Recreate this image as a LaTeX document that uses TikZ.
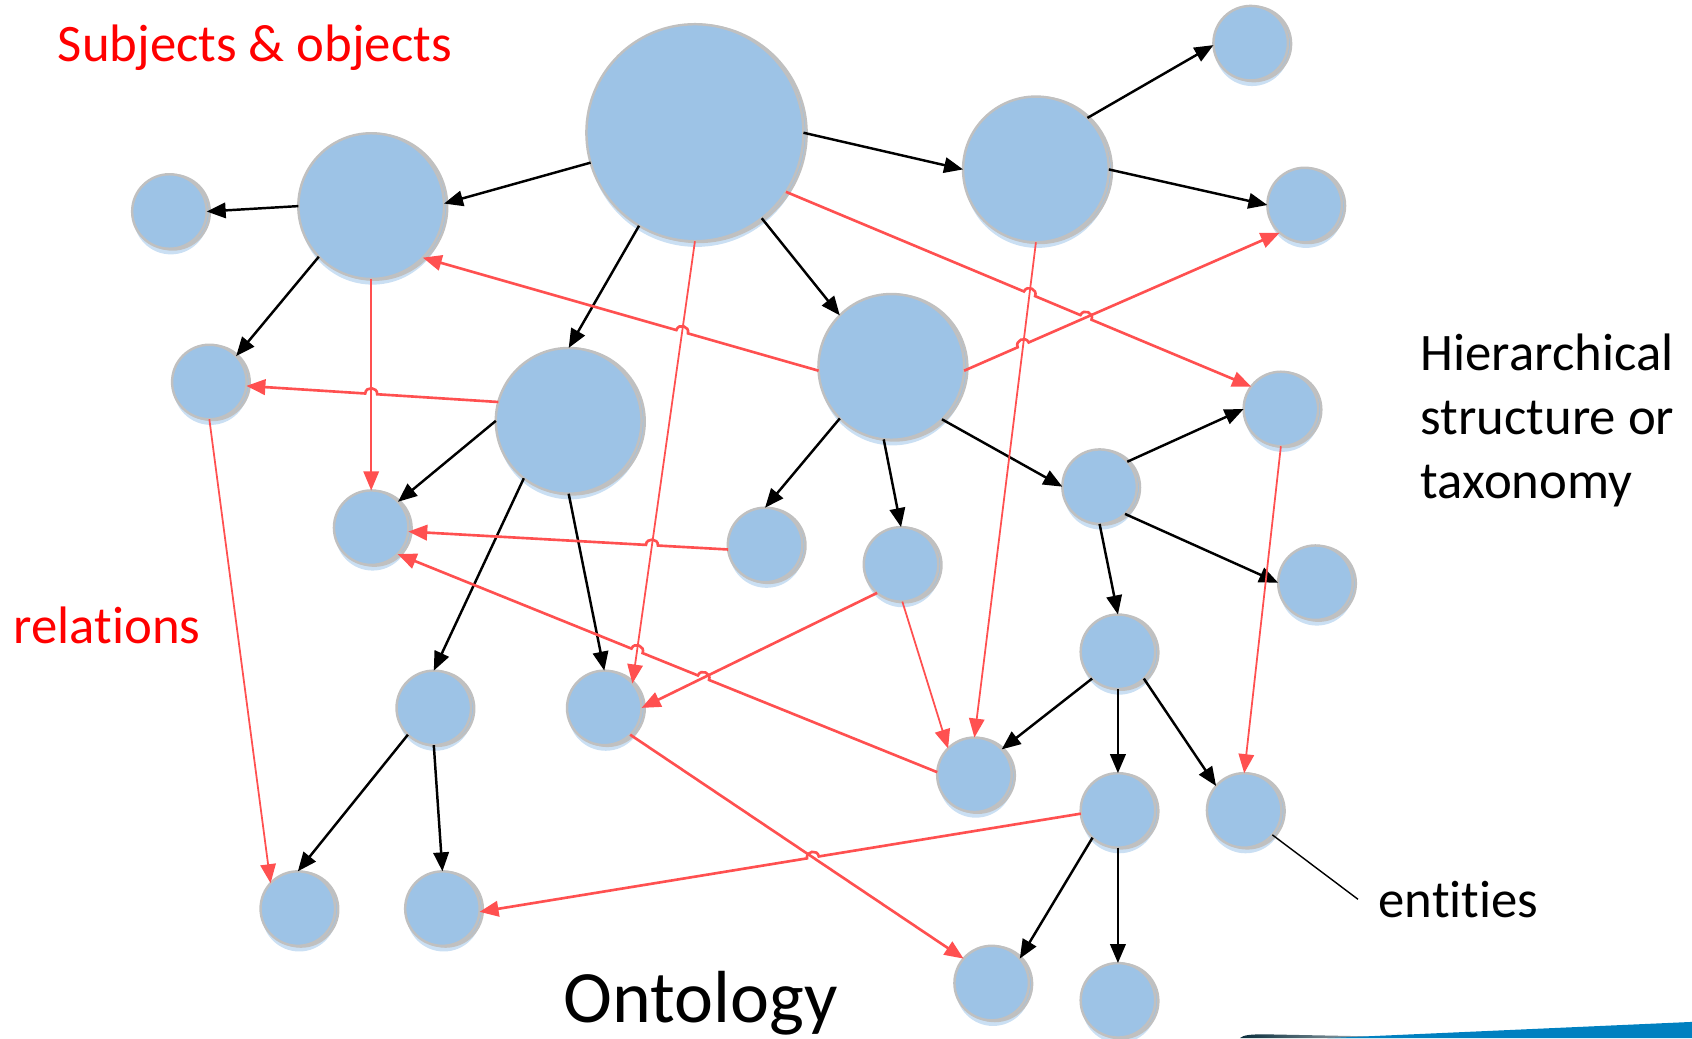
\documentclass[tikz,border=0pt]{standalone}
\usepackage{fontspec}
\setmainfont{Carlito}[Ligatures={NoCommon,NoContextual}]
\usetikzlibrary{arrows.meta,calc,intersections,shadows}

\definecolor{nodefill}{RGB}{157,195,230}
\definecolor{nodeedge}{RGB}{192,192,192}
\definecolor{glowblue}{RGB}{196,220,242}
\definecolor{relred}{RGB}{255,80,80}
\definecolor{labelred}{RGB}{255,0,0}
\definecolor{swooshblue}{RGB}{0,128,192}
\definecolor{swooshdark}{RGB}{10,45,60}

% size of the little bridge where one relation line jumps over another
\newcommand\hoprad{0.06cm}
\newcommand\hopctl{0.075cm}

% #1 crossing point, #2/#3 start/end of the jumping line,
% #4/#5 rotations that turn the bridge upwards
\newcommand\hopbump[5]{%
  \coordinate (#1a) at ($(#1)!\hoprad!(#2)$);
  \coordinate (#1b) at ($(#1)!\hoprad!(#3)$);
  \coordinate (#1c) at ($(#1a)!\hopctl!#4:(#1)$);
  \coordinate (#1d) at ($(#1b)!\hopctl!#5:(#1)$);}

\tikzset{
  entity/.style={circle, fill=nodefill, draw=nodeedge, line width=0.7pt,
    inner sep=0pt, outer sep=0pt, minimum size=#1,
    drop shadow={shadow xshift=0.4pt, shadow yshift=-1.6pt, fill=glowblue, opacity=0.9},
    copy shadow={shadow xshift=0.9pt, shadow yshift=-0.2pt}},
  topnode/.style={entity=2.17cm},
  bignode/.style={entity=1.457cm},
  smallnode/.style={entity=0.745cm},
  isa/.style={draw=black, line width=0.7pt, -{Triangle[length=5.4pt,width=4.4pt]}},
  rel/.style={draw=relred, line width=0.75pt, -{Triangle[length=5.4pt,width=4.4pt]}},
  relthin/.style={rel, line width=0.5pt},
  lbl/.style={anchor=base west, inner sep=0pt, font=\fontsize{15}{18}\selectfont},
  pointer/.style={draw=black, line width=0.4pt},
}

\begin{document}
\begin{tikzpicture}[x=0.010791cm, y=-0.010791cm]
\useasboundingbox (0,0) rectangle (1568,962);

% swoosh in the lower right corner
\shade[left color=swooshdark, right color=swooshdark!25] (1149,962) .. controls (1152,959) and (1160,958.5) .. (1172,958.5) -- (1300,961) -- (1300,962) -- cycle;
\fill[swooshblue] (1230,962) -- (1568,947) -- (1568,962) -- cycle;

% entities
\node[topnode]   (A)   at (644,123) {};
\node[bignode]   (B)   at (344,191) {};
\node[bignode]   (C)   at (960,157) {};
\node[bignode]   (D)   at (826,340) {};
\node[bignode]   (E)   at (527,390) {};
\node[smallnode] (n1)  at (157,196) {};
\node[smallnode] (n2)  at (1159,40) {};
\node[smallnode] (n3)  at (1209,190) {};
\node[smallnode] (n4)  at (194,354) {};
\node[smallnode] (n5)  at (344,489) {};
\node[smallnode] (n6)  at (709,505) {};
\node[smallnode] (n7)  at (835,523) {};
\node[smallnode] (n8)  at (1019,451) {};
\node[smallnode] (n9)  at (1187,379) {};
\node[smallnode] (n10) at (1219,540) {};
\node[smallnode] (n11) at (1036,604) {};
\node[smallnode] (n12) at (402,656) {};
\node[smallnode] (n13) at (560,656) {};
\node[smallnode] (n14) at (903,718) {};
\node[smallnode] (n15) at (1036,751) {};
\node[smallnode] (n16) at (1153,751) {};
\node[smallnode] (n17) at (276,842) {};
\node[smallnode] (n18) at (410,842) {};
\node[smallnode] (n19) at (919,911) {};
\node[smallnode] (n20) at (1036,927) {};

% hierarchy (black)
\draw[isa] (A.196)   -- (B.2);
\draw[isa] (B.180)   -- (n1.0);
\draw[isa] (A.0)     -- (C.180);
\draw[isa] (C.45)    -- (n2.183);
\draw[isa] (C.0)     -- (n3.180);
\draw[isa] (A.239)   -- (E.90);
\draw[isa] (A.308)   -- (D.135);
\draw[isa] (B.224)   -- (n4.44);
\draw[isa] (E.180)   -- (n5.44);
\draw[isa] (E.232)   -- (n12.90);
\draw[isa] (E.270)   -- (n13.90);
\draw[isa] (D.225)   -- (n6.90);
\draw[isa] (D.264)   -- (n7.90);
\draw[isa] (D.314)   -- (n8.180);
\draw[isa] (n8.42)   -- (n9.180);
\draw[isa] (n8.313)  -- (n10.180);
\draw[isa] (n8.270)  -- (n11.90);
\draw[isa] (n11.226) -- (n14.43);
\draw[isa] (n11.270) -- (n15.90);
\draw[isa] (n11.314) -- (n16.139);
\draw[isa] (n12.226) -- (n17.90);
\draw[isa] (n12.270) -- (n18.90);
\draw[isa] (n15.227) -- (n19.41);
\draw[isa] (n15.270) -- (n20.90);

% relations (red) that run straight
\draw[relthin] (B.270)  -- (n5.90);
\draw[relthin] (A.270)  -- (n13.41);
\draw[relthin] (C.270)  -- (n14.90);
\draw[relthin] (n4.270) -- (n17.137);
\draw[rel]     (n7.230) -- (n13.0);
\draw[relthin] (n7.272) -- (n14.135);
\draw[relthin] (n9.270) -- (n16.90);
\draw[rel]     (n13.314) -- (n19.139);

% guide paths used to find the crossings
\path[name path=gAn13]   (A.270)  -- (n13.41);
\path[name path=gBn5]    (B.270)  -- (n5.90);
\path[name path=gCn14]   (C.270)  -- (n14.90);
\path[name path=gDn3]    (D.357)  -- (n3.228);
\path[name path=gn7n13]  (n7.230) -- (n13.0);
\path[name path=gn13n19] (n13.314) -- (n19.139);
\path[name path=gDB]     (D.183)  -- (B.315);
\path[name path=gEn4]    (E.165)  -- (n4.354);
\path[name path=gAn9]    (A.327)  -- (n9.143);
\path[name path=gn6n5]   (n6.187) -- (n5.354);
\path[name path=gn14n5]  (n14.176) -- (n5.315);
\path[name path=gn15n18] (n15.185) -- (n18.355);

\path[name intersections={of=gDB and gAn13, by=hA}];
\path[name intersections={of=gEn4 and gBn5, by=hB}];
\path[name intersections={of=gAn9 and gCn14, by=hC}];
\path[name intersections={of=gAn9 and gDn3, by=hD}];
\path[name intersections={of=gDn3 and gCn14, by=hE}];
\path[name intersections={of=gn6n5 and gAn13, by=hF}];
\path[name intersections={of=gn14n5 and gn7n13, by=hG}];
\path[name intersections={of=gn14n5 and gAn13, by=hH}];
\path[name intersections={of=gn15n18 and gn13n19, by=hI}];

\hopbump{hA}{D.183}{B.315}{-90}{90}
\hopbump{hB}{E.165}{n4.354}{-90}{90}
\hopbump{hC}{A.327}{n9.143}{90}{-90}
\hopbump{hD}{A.327}{n9.143}{90}{-90}
\hopbump{hE}{D.357}{n3.228}{90}{-90}
\hopbump{hF}{n6.187}{n5.354}{-90}{90}
\hopbump{hG}{n14.176}{n5.315}{-90}{90}
\hopbump{hH}{n14.176}{n5.315}{-90}{90}
\hopbump{hI}{n15.185}{n18.355}{-90}{90}

% relations (red) that jump over others
\draw[rel] (D.183) -- (hAa) .. controls (hAc) and (hAd) .. (hAb) -- (B.315);
\draw[rel] (E.165) -- (hBa) .. controls (hBc) and (hBd) .. (hBb) -- (n4.354);
\draw[rel] (A.327) -- (hCa) .. controls (hCc) and (hCd) .. (hCb)
                   -- (hDa) .. controls (hDc) and (hDd) .. (hDb) -- (n9.143);
\draw[rel] (D.357) -- (hEa) .. controls (hEc) and (hEd) .. (hEb) -- (n3.228);
\draw[rel] (n6.187) -- (hFa) .. controls (hFc) and (hFd) .. (hFb) -- (n5.354);
\draw[rel] (n14.176) -- (hGa) .. controls (hGc) and (hGd) .. (hGb)
                     -- (hHa) .. controls (hHc) and (hHd) .. (hHb) -- (n5.315);
\draw[rel] (n15.185) -- (hIa) .. controls (hIc) and (hId) .. (hIb) -- (n18.355);

% labels
\node[lbl, text=labelred] (subj)  at (53,57)    {Subjects \& objects};
\node[lbl]                (hier1) at (1316,343) {Hierarchical};
\node[lbl]                (hier2) at (1316,403) {structure or};
\node[lbl]                (hier3) at (1316,462) {taxonomy};
\node[lbl, text=labelred] (rels)  at (12,596)   {relations};
\node[lbl]                (ent)   at (1277,850) {entities};
\node[lbl, font=\fontsize{21}{25}\selectfont] (onto) at (522,948) {Ontology};

\draw[pointer] (n16.319) -- ([xshift=-0.2cm]ent.west);
\end{tikzpicture}
\end{document}
